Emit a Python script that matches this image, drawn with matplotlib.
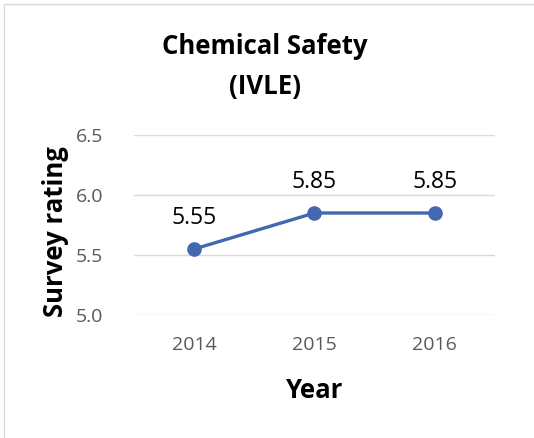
import matplotlib.pyplot as plt
from matplotlib.patches import Rectangle

years = ["2014", "2015", "2016"]
ratings = [5.55, 5.85, 5.85]
yticks = [5.0, 5.5, 6.0, 6.5]

plt.rcParams["font.family"] = ["Open Sans", "DejaVu Sans"]

fig = plt.figure(figsize=(5.34, 4.38), dpi=100)
ax = fig.add_axes([0.2509, 0.2808, 0.676, 0.411])

x = range(len(years))
ax.plot(x, ratings, color="#4468b0", lw=2.4, marker="o", ms=9.5, zorder=3)
for xi, v in zip(x, ratings):
    ax.annotate(f"{v:.2f}", (xi, v), xytext=(0, 14), textcoords="offset points",
                ha="center", va="bottom", fontsize=16.5, color="black")

ax.set_xlim(-0.5, len(years) - 0.5)
ax.set_ylim(5.0, 6.5)
ax.set_yticks(yticks)
ax.set_yticklabels([f"{t:.1f}" for t in yticks])
ax.set_xticks(list(x))
ax.set_xticklabels(years)
ax.tick_params(axis="y", length=0, pad=22, labelsize=14, labelcolor="#595959")
ax.tick_params(axis="x", length=0, pad=15, labelsize=14, labelcolor="#595959")
ax.grid(axis="y", color="#d9d9d9", lw=1)
ax.set_axisbelow(True)
for s in ax.spines.values():
    s.set_visible(False)

ax.set_xlabel("Year", fontsize=18.5, fontweight="bold", labelpad=17)
ax.set_ylabel("Survey rating", fontsize=18.5, fontweight="bold")
ax.yaxis.set_label_coords(-0.18, 0.465)
fig.text(0.496, 0.849, "Chemical Safety\n(IVLE)", ha="center", va="center",
         fontsize=18.5, fontweight="bold", linespacing=1.62)

fig.patches.append(Rectangle((4 / 534, -0.1), 1.2, 1.1 - 4 / 438, transform=fig.transFigure,
                             fill=False, edgecolor="#d9d9d9", lw=1))

plt.savefig("out.png", dpi=100)
